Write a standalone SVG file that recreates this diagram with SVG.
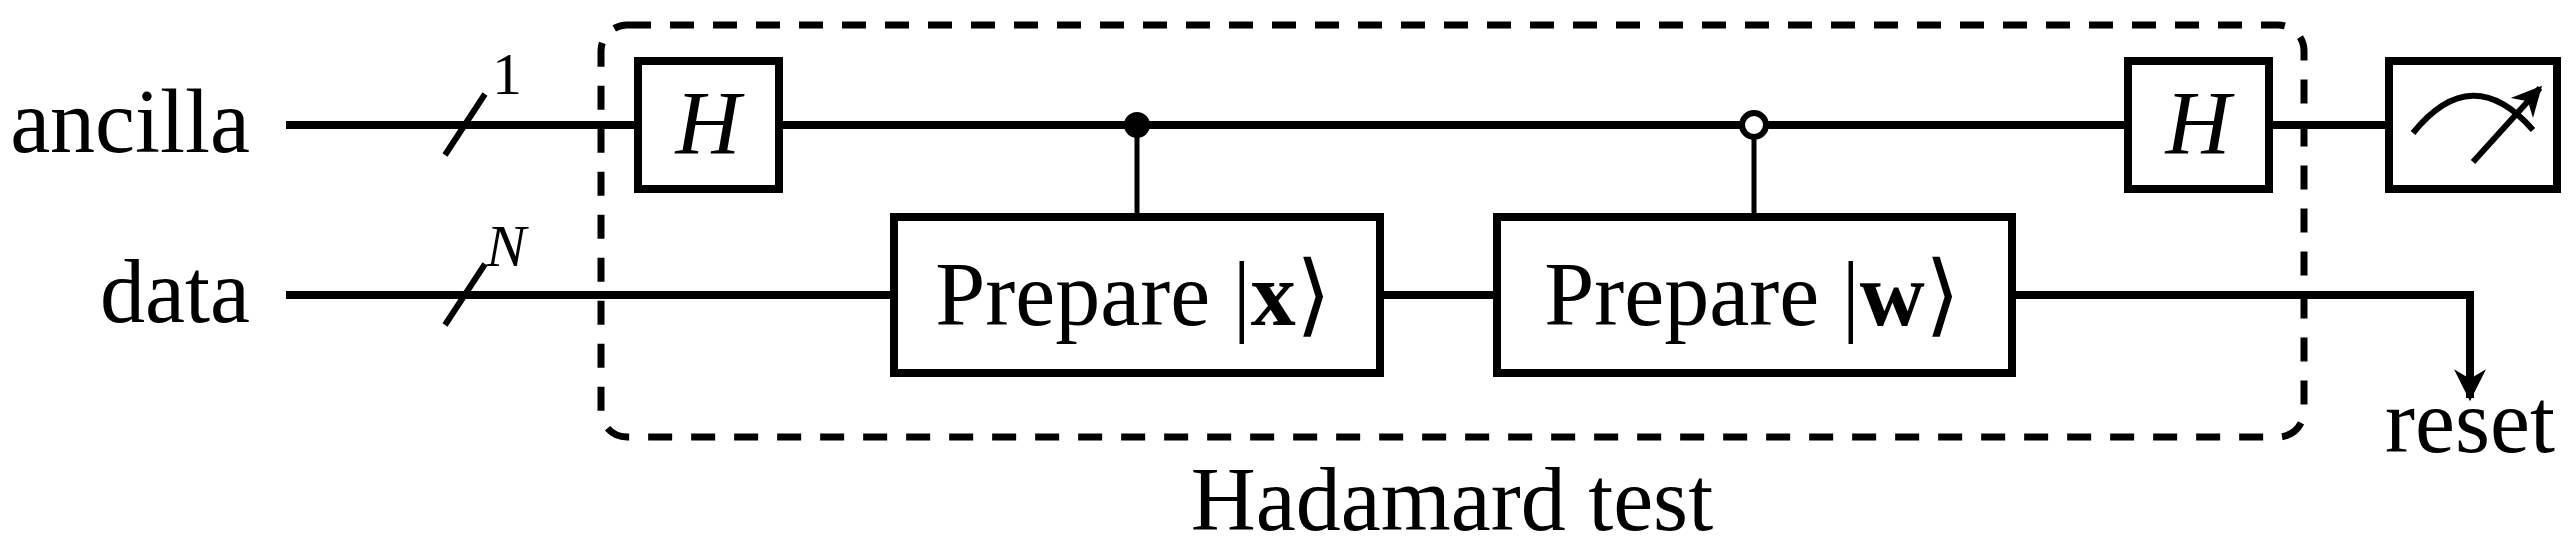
<svg xmlns="http://www.w3.org/2000/svg" width="2572" height="545" viewBox="0 0 2572 545">
<style>
.w{stroke:#000;stroke-width:8;fill:none}
.g{stroke:#000;stroke-width:8;fill:#fff}
.c{stroke:#000;stroke-width:5;fill:none}
.t{font-family:"Liberation Serif",serif;font-size:90px;fill:#000}
.i{font-style:italic}
</style>
<defs>
<marker id="ah" viewBox="0 0 10 10" refX="9" refY="5" markerWidth="6" markerHeight="4" orient="auto" markerUnits="strokeWidth"><path d="M0,0 L10,5 L0,10 L3,5 Z" fill="#000"/></marker>
<marker id="ah2" viewBox="0 0 10 10" refX="9" refY="5" markerWidth="8" markerHeight="5" orient="auto" markerUnits="strokeWidth"><path d="M0,0 L10,5 L0,10 L3,5 Z" fill="#000"/></marker>
</defs>
<g id="connectors">
<path class="w" d="M286,125 H638 M779,125 H2128 M2269,125 H2389"/>
<path class="w" d="M286,295 H894 M1380,295 H1497 M2012,295 H2470 V398" marker-end="url(#ah)"/>
<path class="c" d="M1137,125 V217 M1754,125 V217"/>
<path class="w" d="M445,155 L485,94 M445,325 L485,264" style="stroke-width:6"/>
</g>
<g id="hadamard-test">
<rect x="601" y="25" width="1703" height="412" rx="26" fill="none" stroke="#000" stroke-width="7" stroke-dasharray="24 19"/>
<text class="t" x="1452" y="530" text-anchor="middle">Hadamard test</text>
</g>
<g id="labels">
<text class="t" x="250" y="152" text-anchor="end">ancilla</text>
<text class="t" x="250" y="322" text-anchor="end">data</text>
<text class="t" x="492" y="94" style="font-size:60px">1</text>
<text class="t i" x="486" y="266" style="font-size:60px">N</text>
</g>
<g id="h1"><rect class="g" x="638" y="61" width="141" height="128"/><text class="t i" x="708" y="154" text-anchor="middle">H</text></g>
<g id="ctrl1"><circle cx="1137" cy="125" r="13" fill="#000"/></g>
<g id="ctrl2"><circle cx="1754" cy="125" r="12" fill="#fff" stroke="#000" stroke-width="6"/></g>
<g id="prep-x"><rect class="g" x="894" y="217" width="486" height="156"/><text class="t" x="1133" y="325" text-anchor="middle">Prepare |<tspan font-weight="bold">x</tspan>⟩</text></g>
<g id="prep-w"><rect class="g" x="1497" y="217" width="515" height="156"/><text class="t" x="1752" y="325" text-anchor="middle">Prepare |<tspan font-weight="bold">w</tspan>⟩</text></g>
<g id="h2"><rect class="g" x="2128" y="61" width="141" height="128"/><text class="t i" x="2198" y="154" text-anchor="middle">H</text></g>
<g id="meter"><rect class="g" x="2389" y="61" width="168" height="128"/>
<path class="c" d="M2413,133 Q2472,60 2533,130" style="stroke-width:6"/>
<path class="c" d="M2473,162 L2540,88" style="stroke-width:6" marker-end="url(#ah2)"/></g>
<g id="reset"><text class="t" x="2470" y="452" text-anchor="middle">reset</text></g>
</svg>
